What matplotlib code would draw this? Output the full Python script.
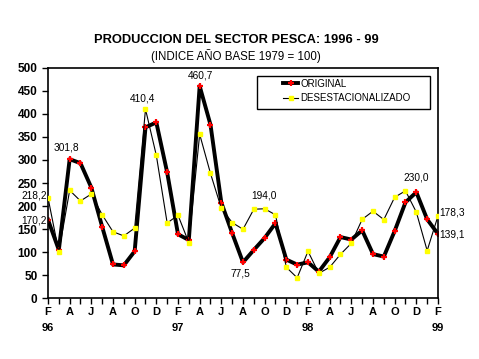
import matplotlib.pyplot as plt
from matplotlib.patches import Rectangle

plt.rcParams['font.family'] = ['Liberation Sans', 'DejaVu Sans']

MONTHS = ["F", "M", "A", "M", "J", "J", "A", "S", "O", "N", "D", "E"] * 3 + ["F"]
YEARS = {0: "96", 12: "97", 24: "98", 36: "99"}

original = [170.2, 104.5, 301.8, 293.0, 240.0, 155.0, 73.0, 71.0, 101.6, 371.0, 381.7, 273.0,
            138.6, 126.0, 460.7, 376.6, 207.5, 141.0, 77.5, 104.5, 130.6, 162.5, 83.5, 72.6,
            77.6, 57.3, 88.5, 132.5, 127.0, 147.0, 95.5, 90.0, 145.6, 208.0, 230.0, 171.0,
            139.1]
desestacionalizado = [218.2, 100.0, 234.0, 211.0, 226.0, 181.0, 144.0, 135.0, 152.0, 410.4, 310.0, 163.0,
                      180.0, 120.5, 356.0, 270.7, 195.0, 164.0, 149.5, 193.0, 194.0, 180.7, 66.8, 44.0,
                      101.6, 53.7, 66.8, 95.0, 119.0, 171.0, 188.7, 170.5, 219.0, 233.0, 186.6, 103.0,
                      178.3]

# point labels: (index, series, text, dx, dy) offsets in data units
LABELS = [
    (2, original, "301,8", -0.3, 25),
    (9, desestacionalizado, "410,4", -0.27, 23),
    (14, original, "460,7", 0.08, 23),
    (0, desestacionalizado, "218,2", -1.3, 5),
    (0, original, "170,2", -1.3, -2),
    (18, original, "77,5", -0.23, -24.5),
    (20, desestacionalizado, "194,0", -0.06, 28.7),
    (34, original, "230,0", -0.02, 33),
    (36, desestacionalizado, "178,3", 1.3, 7),
    (36, original, "139,1", 1.3, -2),
]

x = list(range(len(original)))

fig = plt.figure(figsize=(4.79, 3.59), dpi=100)
ax = fig.add_axes([0.1002, 0.1699, 0.8142, 0.6407])

ax.plot(x, original, color="black", lw=2.8, marker="+", markersize=5,
        markeredgewidth=1.6, markeredgecolor="red", label="ORIGINAL", zorder=2)
ax.plot(x, desestacionalizado, color="black", lw=0.8, marker="s", markersize=3,
        markerfacecolor="yellow", markeredgecolor="yellow", label="DESESTACIONALIZADO", zorder=3)

for i, serie, txt, dx, dy in LABELS:
    ax.text(i + dx, serie[i] + dy, txt, fontsize=7.3, ha="center", va="center")

ax.set_xlim(0, 36)
ax.set_ylim(0, 500)
ax.set_yticks(range(0, 501, 50))
ax.set_xticks(x)
ax.set_xticklabels([])
for i, m in enumerate(MONTHS):
    if i % 2 == 0:
        ax.text(i, -20, m, fontsize=8, fontweight="bold", ha="center", va="top")
for i, yr in YEARS.items():
    ax.text(i, -55, yr, fontsize=8, fontweight="bold", ha="center", va="top")

ax.tick_params(axis="y", labelsize=8.5, length=4, width=1, direction="out")
ax.tick_params(axis="x", length=4, width=1, direction="out")
for lab in ax.get_yticklabels():
    lab.set_fontweight("bold")
for s in ax.spines.values():
    s.set_linewidth(1.2)

# legend box drawn by hand, legend entries inside without frame
ax.add_patch(Rectangle((0.536, 0.823), 0.443, 0.1435, transform=ax.transAxes,
                       facecolor="white", edgecolor="black", lw=1.0, zorder=4))
leg = ax.legend(loc="upper left", bbox_to_anchor=(0.603, 0.953), fontsize=7,
                frameon=False, borderpad=0, handlelength=1.55, handletextpad=0.2,
                labelspacing=0.45, borderaxespad=0)
leg.set_zorder(5)

fig.text(0.493, 0.889, "PRODUCCION DEL SECTOR PESCA: 1996 - 99", fontsize=9.3,
         fontweight="bold", ha="center", va="center")
fig.text(0.493, 0.844, "(INDICE AÑO BASE 1979 = 100)", fontsize=8.3,
         ha="center", va="center")

plt.savefig("out.png", dpi=100)
